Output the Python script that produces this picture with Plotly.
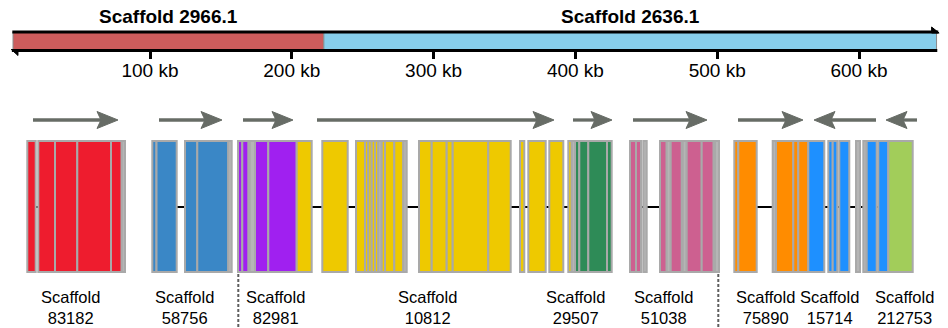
import plotly.graph_objects as go

# ---------------- data ----------------
# Assembly scaffolds along the top bar (positions in kb)
scaffold_names = ["Scaffold 2966.1", "Scaffold 2636.1"]
scaffold_start_kb = [3.4, 222.6]
scaffold_end_kb = [222.6, 654.7]
scaffold_colors = ["#cd5c5c", "#87ceeb"]

tick_kb = [100, 200, 300, 400, 500, 600]
tick_text = ["100 kb", "200 kb", "300 kb", "400 kb", "500 kb", "600 kb"]

# Gene track blocks (track coordinate units) and their colour keys
exon_start = [27.3, 38.3, 55.0, 77.3, 111.0, 121.7,
              152.3, 156.5, 185.0, 197.3, 228.3,
              238.0, 242.3, 249.7, 255.0, 268.3, 296.7,
              322.3, 356.0, 365.0, 368.3, 371.7, 375.0, 378.3, 381.7, 385.0, 394.3, 403.3,
              419.0, 431.7, 446.7, 452.7, 488.3, 520.0, 528.3, 549.3,
              568.3, 571.7, 575.0, 579.3, 588.3, 607.0,
              630.0, 636.0, 643.3, 660.0, 666.7, 670.7, 682.7, 686.7, 701.7, 715.0,
              734.3, 738.3, 772.7, 776.0, 793.3, 798.3,
              808.3, 828.3, 832.7, 839.3, 856.0, 863.3, 866.7, 878.3,
              888.3]
exon_end = [35.7, 55.0, 77.3, 111.0, 121.7, 125.0,
            156.5, 176.7, 197.3, 228.3, 231.7,
            242.3, 248.3, 255.0, 268.3, 296.7, 311.7,
            347.7, 365.0, 368.3, 371.7, 375.0, 378.3, 381.7, 385.0, 394.3, 403.3, 406.7,
            431.7, 446.7, 452.7, 488.3, 510.7, 524.3, 545.7, 563.3,
            571.7, 575.0, 579.3, 588.3, 607.0, 611.7,
            636.0, 641.0, 646.7, 666.7, 670.7, 681.7, 686.7, 701.7, 713.5, 719.0,
            738.3, 756.7, 776.0, 793.3, 798.3, 808.3,
            824.3, 832.7, 837.3, 849.3, 860.0, 866.7, 876.7, 888.3,
            912.7]
exon_color = ["red", "red", "red", "red", "red", "grey",
              "blue", "blue", "blue", "blue", "grey",
              "purple", "purple", "grey", "purple", "purple", "yellow",
              "yellow", "yellow", "yellow", "yellow", "yellow", "yellow", "grey", "yellow", "yellow", "yellow", "grey",
              "yellow", "yellow", "yellow", "yellow", "yellow", "yellow", "yellow", "yellow",
              "yellow", "grey", "green", "green", "green", "green",
              "pink", "pink", "grey", "pink", "grey", "pink", "grey", "pink", "pink", "grey",
              "orange", "orange", "grey", "orange", "orange", "orange",
              "dodger", "dodger", "dodger", "dodger", "grey", "grey", "dodger", "dodger",
              "olive"]

# Connecting backbone of each block cluster
link_start = [27.0, 152.0, 237.0, 630.0, 734.0]
link_end = [125.0, 232.0, 612.0, 719.0, 913.0]

# Orientation arrows (from -> to)
arrow_from = [33, 159, 243, 317, 573, 633, 738, 876, 917]
arrow_to = [118, 222, 293, 554, 612, 707, 803, 814, 886]

# Scaffold labels under the track
label_pos = [70.5, 184.7, 275.5, 427.7, 575.5, 663.3, 765.0, 829.7, 904.7]
label_ids = ["83182", "58756", "82981", "10812", "29507", "51038", "75890", "15714", "212753"]

# Assembly break points
break_pos = [238.3, 718.3]

# ---------------- styles ----------------
palette = {
    "red": "#ee1c2e", "blue": "#3a87c6", "purple": "#a020f0", "yellow": "#eec900",
    "green": "#2e8b57", "pink": "#cd6090", "orange": "#ff8c00", "dodger": "#1e90ff",
    "olive": "#a2cd5a", "grey": "#b5b5b5",
}
BORDER = "#a9a9a9"
ARROW = "#676c66"
FONT = "Liberation Sans, Arial, sans-serif"

W, H = 948, 328
BAR_TOP, BAR_BOT = 32.0, 50.5
TRACK_TOP, TRACK_BOT, TRACK_MID = 141.0, 272.0, 207.0
ARROW_Y = 120.0

shapes = []
annotations = []

# Top scaffold bar
for name, s, e, c in zip(scaffold_names, scaffold_start_kb, scaffold_end_kb, scaffold_colors):
    shapes.append(dict(type="rect", xref="x", yref="y", x0=s, x1=e, y0=BAR_TOP, y1=BAR_BOT,
                       fillcolor=c, line=dict(color="#8a8a8a", width=1), layer="above"))
    annotations.append(dict(x=(s + e) / 2, y=16.5, xref="x", yref="y", text="<b>%s</b>" % name,
                            showarrow=False, font=dict(family=FONT, size=19, color="black"),
                            xanchor="center", yanchor="middle"))

bar_x0 = scaffold_start_kb[0]
bar_x1 = scaffold_end_kb[-1]
# strand lines with half arrowheads
shapes.append(dict(type="line", xref="x", yref="y", x0=bar_x0 - 0.5, x1=bar_x1 + 1.2,
                   y0=BAR_TOP, y1=BAR_TOP, line=dict(color="black", width=3)))
shapes.append(dict(type="line", xref="x", yref="y", x0=bar_x0 - 0.8, x1=bar_x1 + 0.5,
                   y0=BAR_BOT, y1=BAR_BOT, line=dict(color="black", width=3)))
shapes.append(dict(type="path", xref="x", yref="y",
                   path="M %f,%f L %f,%f L %f,%f Z" % (bar_x1 + 1.8, BAR_TOP + 1,
                                                        bar_x1 - 3.5, BAR_TOP - 5,
                                                        bar_x1 - 3.5, BAR_TOP + 1),
                   fillcolor="black", line=dict(color="black", width=1)))
shapes.append(dict(type="path", xref="x", yref="y",
                   path="M %f,%f L %f,%f L %f,%f Z" % (bar_x0 - 1.2, BAR_BOT - 1,
                                                        bar_x0 + 3.5, BAR_BOT + 5,
                                                        bar_x0 + 3.5, BAR_BOT - 1),
                   fillcolor="black", line=dict(color="black", width=1)))

# Backbone lines
for s, e in zip(link_start, link_end):
    shapes.append(dict(type="line", xref="x2", yref="y", x0=s, x1=e, y0=TRACK_MID, y1=TRACK_MID,
                       line=dict(color="black", width=2)))

# Blocks
for s, e, c in zip(exon_start, exon_end, exon_color):
    shapes.append(dict(type="rect", xref="x2", yref="y", x0=s, x1=e, y0=TRACK_TOP, y1=TRACK_BOT,
                       fillcolor=palette[c], line=dict(color=BORDER, width=2)))

# Orientation arrows
HEAD_L, HEAD_H, NOTCH = 21.0, 8.5, 4.0
for a, b in zip(arrow_from, arrow_to):
    d = 1 if b > a else -1
    shapes.append(dict(type="line", xref="x2", yref="y", x0=a, x1=b - d * 14, y0=ARROW_Y, y1=ARROW_Y,
                       line=dict(color=ARROW, width=3.3)))
    back = b - d * HEAD_L
    notch = back + d * NOTCH
    shapes.append(dict(type="path", xref="x2", yref="y",
                       path="M %f,%f L %f,%f L %f,%f L %f,%f Z" % (b, ARROW_Y, back, ARROW_Y - HEAD_H,
                                                                    notch, ARROW_Y, back, ARROW_Y + HEAD_H),
                       fillcolor=ARROW, line=dict(color=ARROW, width=1)))

# Break points
for p in break_pos:
    shapes.append(dict(type="line", xref="x2", yref="y", x0=p, x1=p, y0=TRACK_BOT + 2, y1=H,
                       line=dict(color="#5e5e5e", width=2, dash="3px,2px")))

# Scaffold labels
for p, t in zip(label_pos, label_ids):
    annotations.append(dict(x=p, y=307.0, xref="x2", yref="y", text="Scaffold<br>%s" % t,
                            showarrow=False, font=dict(family=FONT, size=16.5, color="black"),
                            xanchor="center", yanchor="middle", align="center"))

# Axis mapping: kb scale for the bar, track units for the blocks
px_per_kb = 1.418
kb_origin_px = 8.2
kb_range = [-kb_origin_px / px_per_kb, (W - kb_origin_px) / px_per_kb]

fig = go.Figure()
fig.add_trace(go.Scatter(x=[None], y=[None], showlegend=False))
fig.update_layout(
    width=W, height=H, autosize=False,
    margin=dict(l=0, r=0, t=0, b=0, pad=0),
    paper_bgcolor="white", plot_bgcolor="white",
    showlegend=False,
    shapes=shapes, annotations=annotations,
    xaxis=dict(range=kb_range, domain=[0, 1], anchor="free", position=1 - (BAR_BOT + 0.5) / H,
               tickmode="array", tickvals=tick_kb, ticktext=tick_text,
               ticks="outside", ticklen=7, tickwidth=3, tickcolor="black",
               ticklabelstandoff=-5,
               tickfont=dict(family=FONT, size=19, color="black"),
               showline=False, showgrid=False, zeroline=False, fixedrange=True),
    xaxis2=dict(range=[0, W], overlaying="x", anchor="y", visible=False, fixedrange=True),
    yaxis=dict(range=[H, 0], domain=[0, 1], visible=False, fixedrange=True),
)

fig.write_html("out.html")
